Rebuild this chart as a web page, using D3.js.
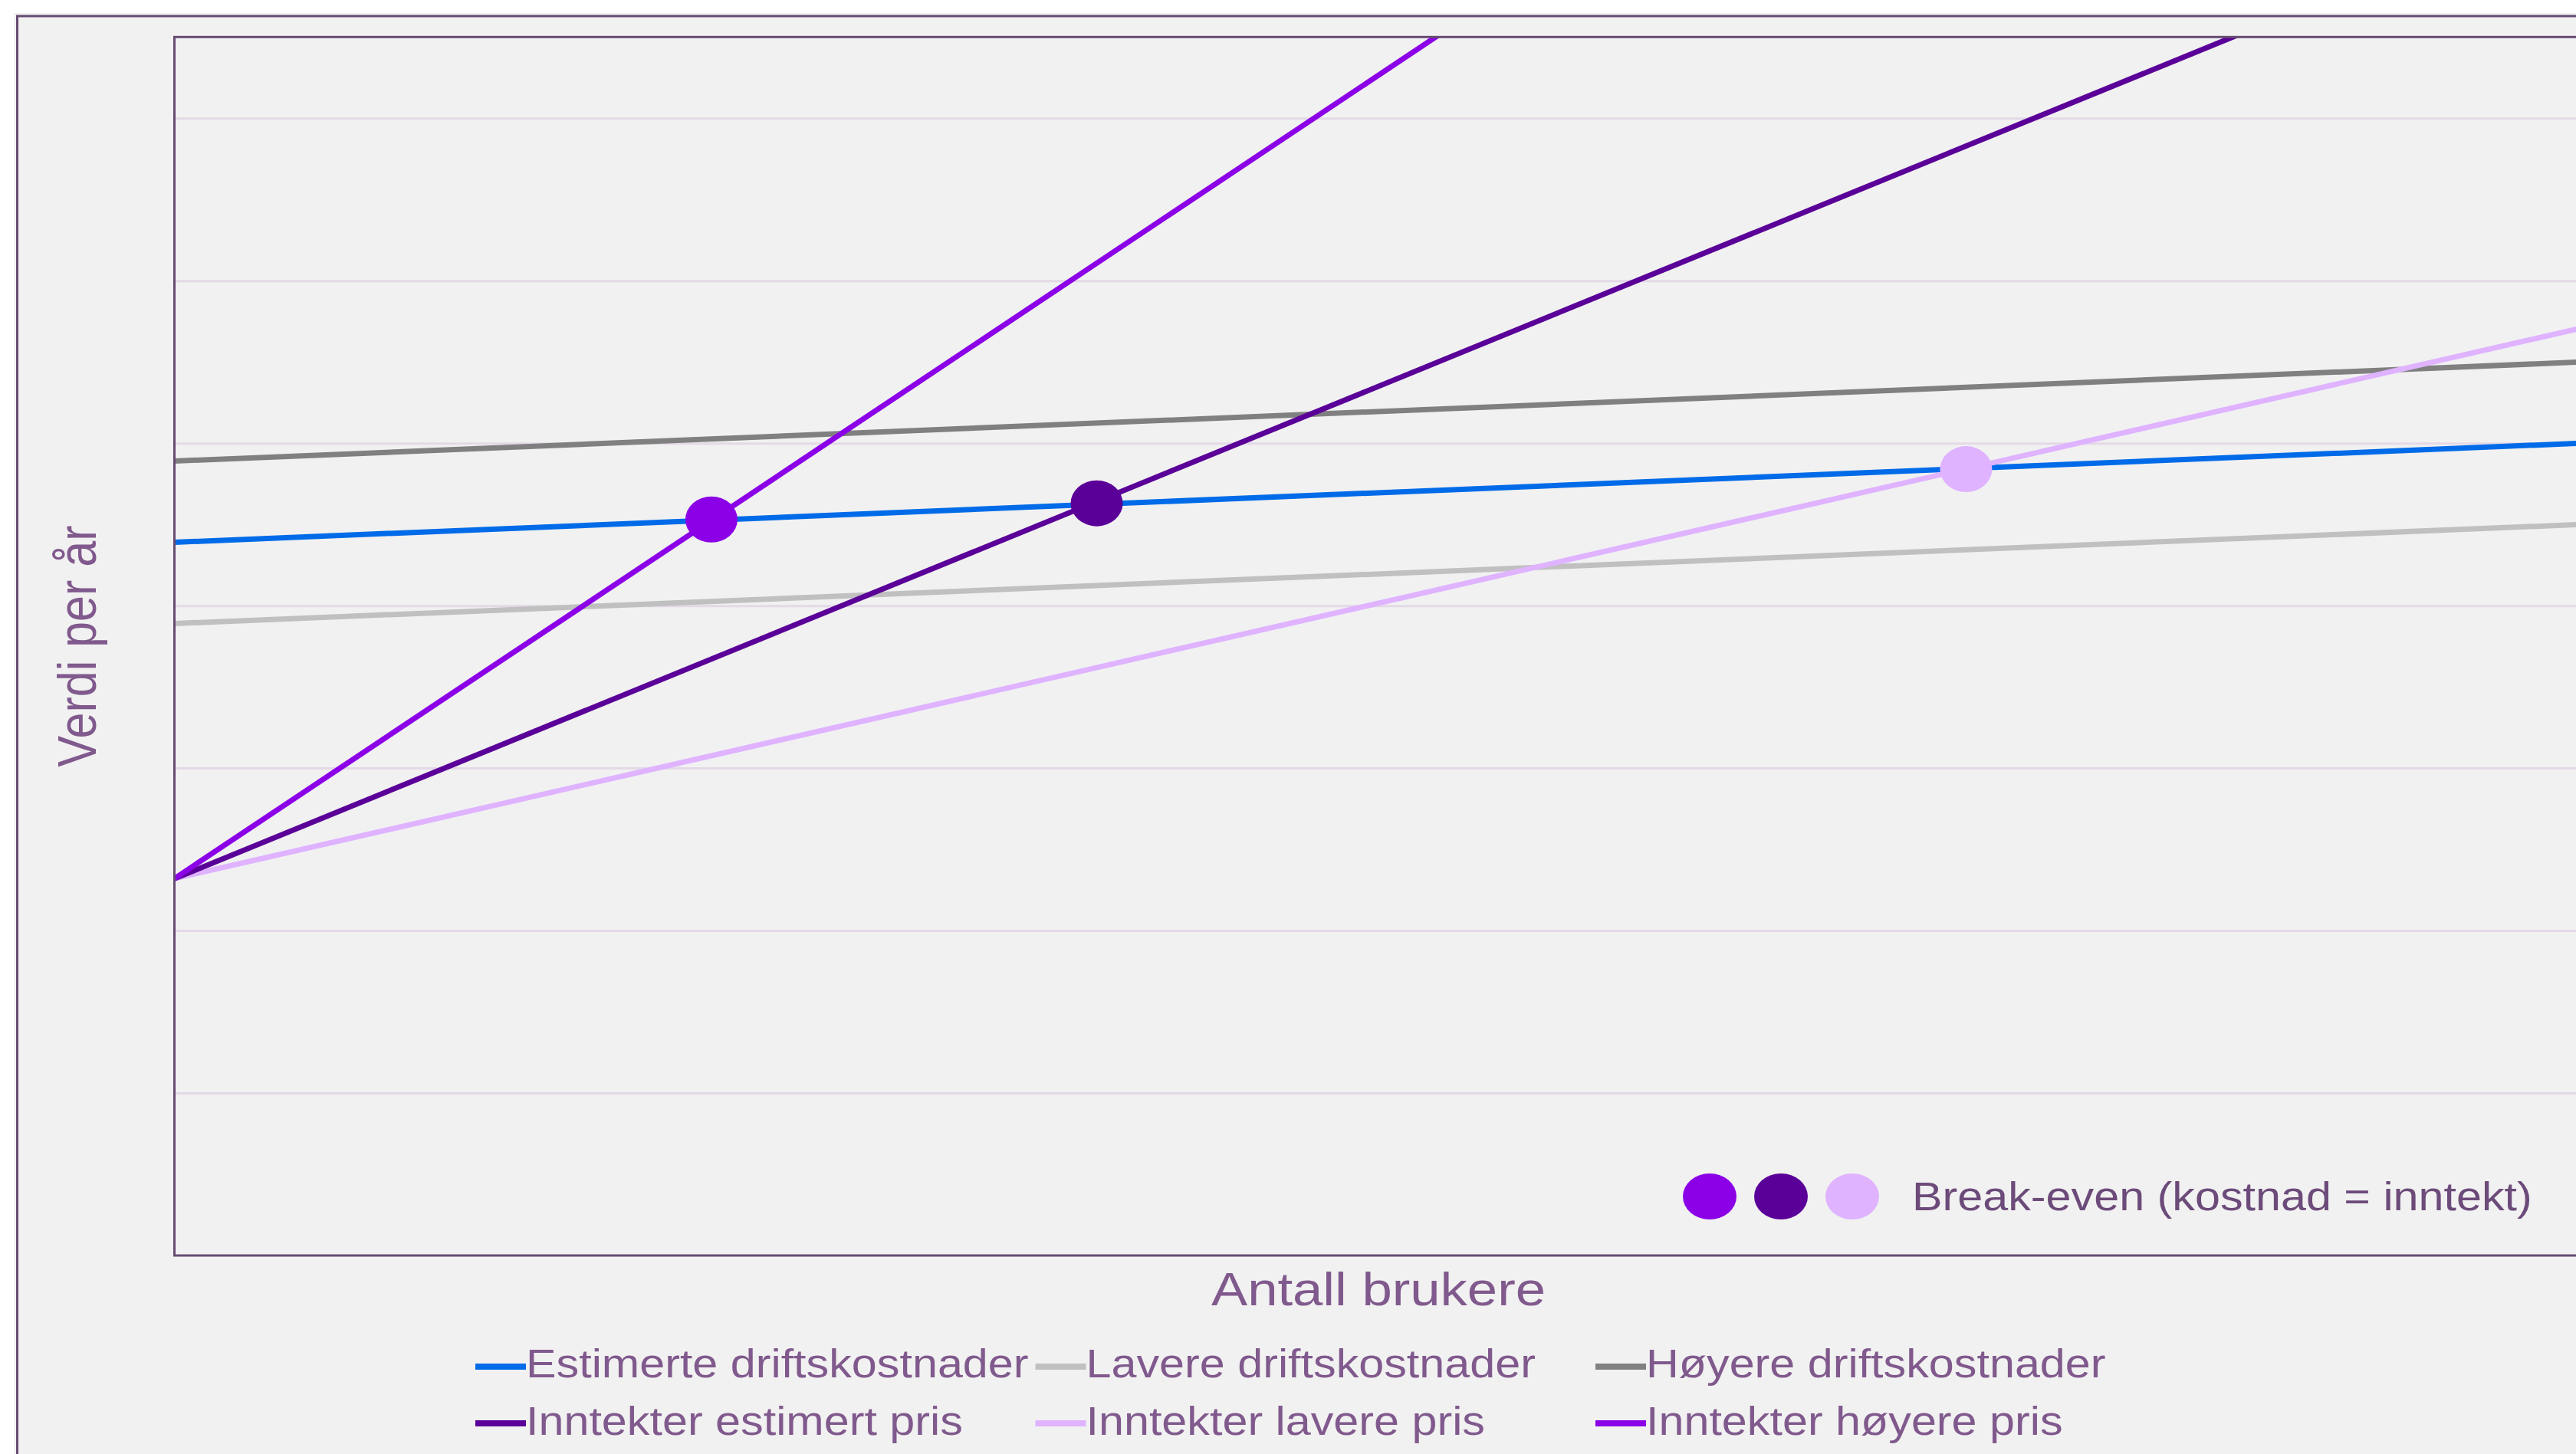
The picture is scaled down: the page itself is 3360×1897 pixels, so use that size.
<!DOCTYPE html>
<html>
<head>
<meta charset="utf-8">
<script src="https://cdn.jsdelivr.net/npm/d3@7"></script>
<style>
  html, body { margin: 0; padding: 0; background: #ffffff; overflow: hidden; }
  svg { display: block; }
  text { font-family: "Liberation Sans", Arial, sans-serif; }
</style>
</head>
<body>
<svg id="chart" width="3360" height="1897"></svg>
<script>
// Number of users (relative scale 0–100) at the two ends of each line
const userRange = [0, 100];

// Yearly operating costs (start, end)
const costEstimated = [4.39, 5.00];
const costLower     = [3.89, 4.50];
const costHigher    = [4.89, 5.50];

// Yearly revenue for the three price levels (start, end)
const revenueEstimated = [2.32, 8.38];
const revenueLower     = [2.32, 5.71];
const revenueHigher    = [2.32, 12.21];

// Break-even points: higher price, estimated price, lower price
const breakEvenUsers  = [22.3, 38.3, 74.4];
const breakEvenValues = [4.53, 4.63, 4.84];

// Horizontal gridlines of the value axis
const valueTicks = [1, 2, 3, 4, 5, 6, 7];

const seriesLabels = [
  "Estimerte driftskostnader", "Lavere driftskostnader", "Høyere driftskostnader",
  "Inntekter estimert pris", "Inntekter lavere pris", "Inntekter høyere pris"
];
const seriesColors = ["#006be8", "#c0c0c0", "#808080", "#5a0098", "#dfb3ff", "#8b00e6"];
const breakEvenColors = ["#8b00e6", "#5a0098", "#dfb3ff"];

const xLabel = "Antall brukere";
const yLabel = "Verdi per år";
const breakEvenLabel = "Break-even (kostnad = inntekt)";

// ---- layout ----
const plot = { left: 227.5, right: 3368.5, top: 48.3, bottom: 1638 };
const frameColor = "#664b72";
const textColor = "#80598d";
const stretch = 1.14;   // horizontal stretch of the text glyphs

const svg = d3.select("#chart");

const x = d3.scaleLinear().domain(userRange).range([plot.left, plot.right]);
const y = d3.scaleLinear().domain([0, 7.5]).range([plot.bottom, plot.top]);

// Panel background and outer frame
svg.append("rect").attr("x", 18).attr("y", 17).attr("width", 3400).attr("height", 1900).attr("fill", "#f1f1f1");
svg.append("rect").attr("x", 22.5).attr("y", 21).attr("width", 3400).attr("height", 1900)
  .attr("fill", "none").attr("stroke", frameColor).attr("stroke-width", 3);

// Gridlines
const grid = svg.append("g").attr("transform", `translate(${plot.left},0)`)
  .call(d3.axisLeft(y).tickValues(valueTicks).tickSize(-(plot.right - plot.left)).tickFormat(""));
grid.select(".domain").remove();
grid.selectAll(".tick line").attr("stroke", "#e3d9e7").attr("stroke-width", 3);

// Clip for the plotted lines
svg.append("clipPath").attr("id", "plotClip").append("rect")
  .attr("x", plot.left).attr("y", plot.top)
  .attr("width", plot.right - plot.left).attr("height", plot.bottom - plot.top);

const series = [costEstimated, costLower, costHigher, revenueEstimated, revenueLower, revenueHigher];
const line = d3.line().x(d => x(d[0])).y(d => y(d[1]));
const drawOrder = [1, 2, 0, 4, 3, 5];

const linesG = svg.append("g").attr("clip-path", "url(#plotClip)");
drawOrder.forEach(i => {
  const pts = userRange.map((u, k) => [u, series[i][k]]);
  linesG.append("path").datum(pts)
    .attr("d", line)
    .attr("fill", "none")
    .attr("stroke", seriesColors[i])
    .attr("stroke-width", 7)
    .attr("stroke-linecap", "butt");
});

// Break-even markers
svg.append("g").selectAll("ellipse")
  .data(breakEvenUsers.map((u, i) => ({ u, v: breakEvenValues[i], c: breakEvenColors[i] })))
  .join("ellipse")
  .attr("cx", d => x(d.u)).attr("cy", d => y(d.v))
  .attr("rx", 34).attr("ry", 30)
  .attr("fill", d => d.c);

// Plot border
svg.append("rect")
  .attr("x", plot.left).attr("y", plot.top)
  .attr("width", plot.right - plot.left).attr("height", plot.bottom - plot.top)
  .attr("fill", "none").attr("stroke", frameColor).attr("stroke-width", 3);

// Break-even legend inside the plot
const beLegend = svg.append("g");
[2230, 2323, 2416].forEach((cx, i) => {
  beLegend.append("ellipse").attr("cx", cx).attr("cy", 1561).attr("rx", 35).attr("ry", 30)
    .attr("fill", breakEvenColors[i]);
});
beLegend.append("text")
  .attr("transform", `translate(2494,1579) scale(${stretch},1)`)
  .attr("font-size", 52).attr("fill", "#6c4b7a")
  .text(breakEvenLabel);

// Axis titles
svg.append("text")
  .attr("transform", `translate(${(plot.left + plot.right) / 2},1703) scale(${stretch},1)`)
  .attr("text-anchor", "middle").attr("font-size", 62).attr("fill", textColor)
  .text(xLabel);

svg.append("text")
  .attr("transform", `translate(125,${(plot.top + plot.bottom) / 2}) scale(${stretch},1) rotate(-90)`)
  .attr("text-anchor", "middle").attr("font-size", 61).attr("fill", textColor)
  .text(yLabel);

// Series legend: two rows of three
const colX = [620, 1350.5, 2081];
const rowSwatchY = [1783, 1857];
const rowBaseY = [1797, 1872];
const legend = svg.append("g");
seriesLabels.forEach((label, i) => {
  const c = i % 3, r = Math.floor(i / 3);
  legend.append("line")
    .attr("x1", colX[c]).attr("x2", colX[c] + 66)
    .attr("y1", rowSwatchY[r]).attr("y2", rowSwatchY[r])
    .attr("stroke", seriesColors[i]).attr("stroke-width", 8);
  legend.append("text")
    .attr("transform", `translate(${colX[c] + 66},${rowBaseY[r]}) scale(${stretch},1)`)
    .attr("font-size", 52).attr("fill", textColor)
    .text(label);
});
</script>
</body>
</html>
